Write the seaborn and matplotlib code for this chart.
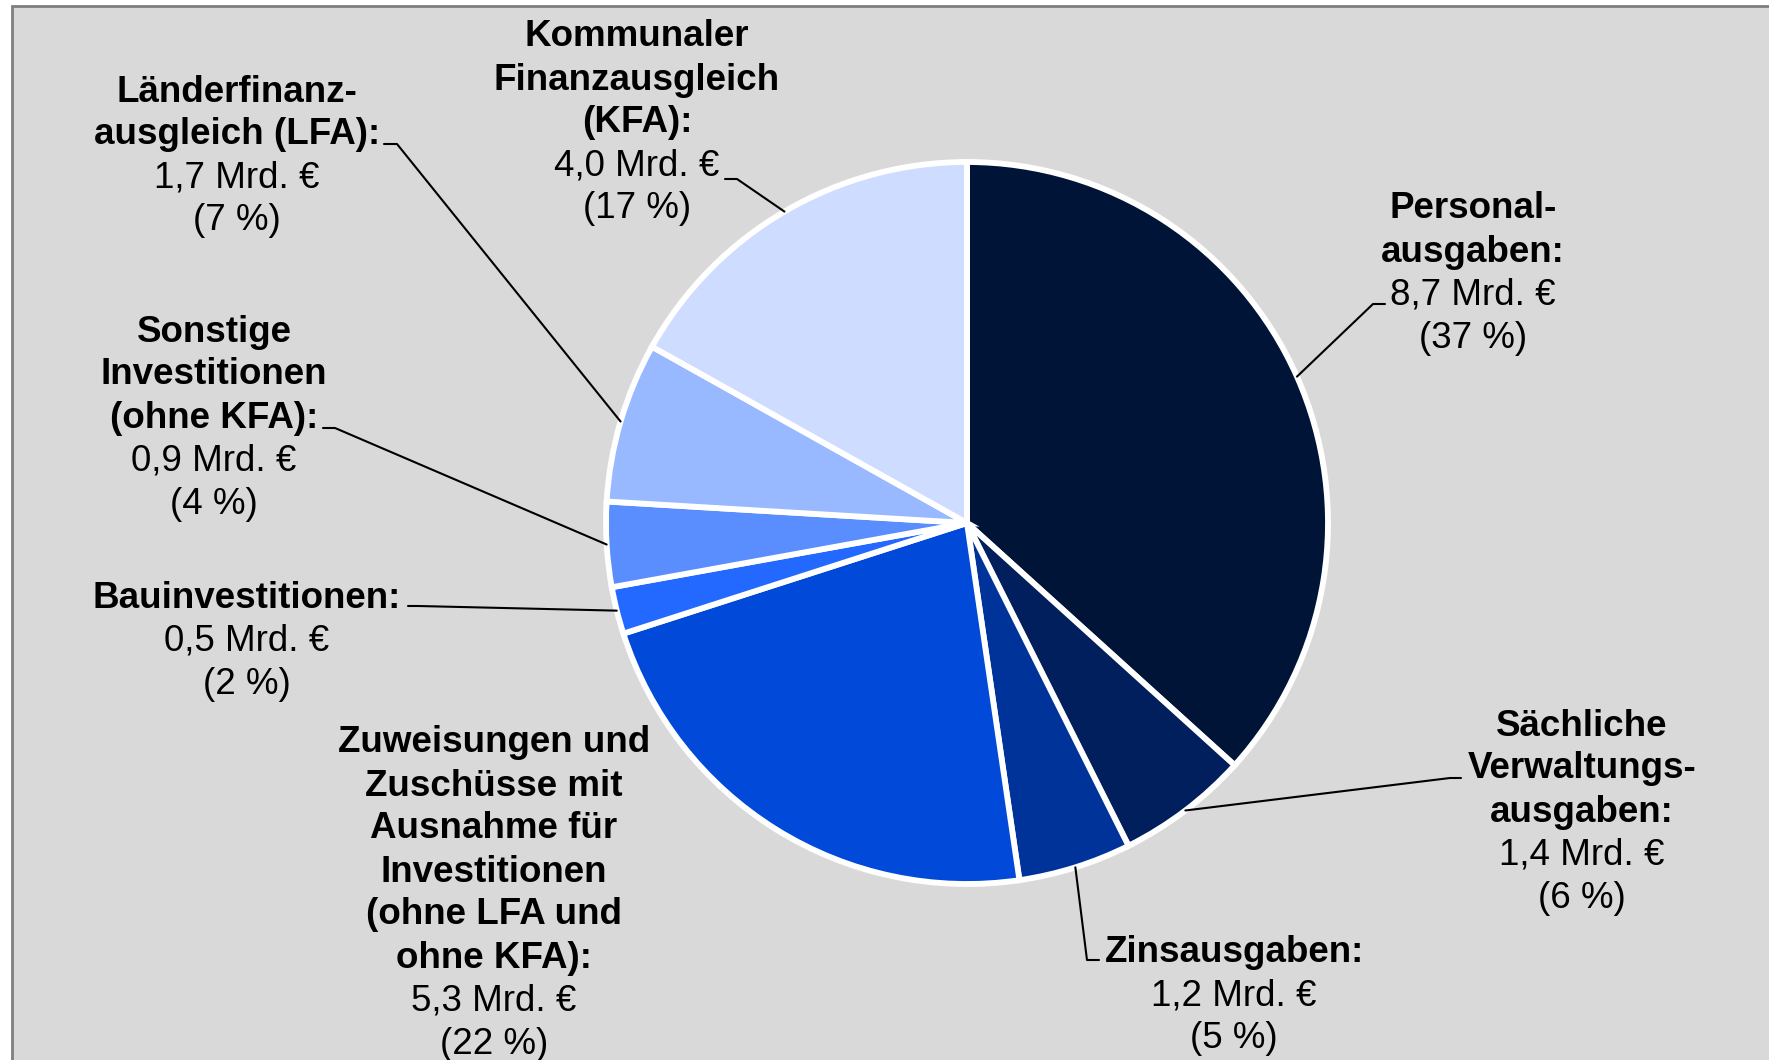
import numpy as np
import matplotlib
matplotlib.use("Agg")
import matplotlib.pyplot as plt
import seaborn as sns
from matplotlib.patches import Rectangle

sns.set_style("white")
plt.rcParams["font.family"] = ["Liberation Sans", "DejaVu Sans"]

# ------------------------------------------------------
# DATA
# ------------------------------------------------------
categories = [
    "Personal-\nausgaben:",
    "Sächliche\nVerwaltungs-\nausgaben:",
    "Zinsausgaben:",
    "Zuweisungen und\nZuschüsse mit\nAusnahme für\nInvestitionen\n(ohne LFA und\nohne KFA):",
    "Bauinvestitionen:",
    "Sonstige\nInvestitionen\n(ohne KFA):",
    "Länderfinanz-\nausgleich (LFA):",
    "Kommunaler\nFinanzausgleich\n(KFA):",
]
values = [8.7, 1.4, 1.2, 5.3, 0.5, 0.9, 1.7, 4.0]
value_labels = ["8,7", "1,4", "1,2", "5,3", "0,5", "0,9", "1,7", "4,0"]
percents = [37, 6, 5, 22, 2, 4, 7, 17]
colors = ["#001438", "#001f5c", "#003399", "#0049d9",
          "#2369ff", "#5a8eff", "#98b8ff", "#cddcff"]

# ------------------------------------------------------
# LAYOUT (pixel coords, y measured from top)
# ------------------------------------------------------
W, H = 1769, 1060
center = (967, 523)
radius = 361
fs = 26.5
step = 43
text_shift = 3

# x center, y center of first line
label_pos = [
    (1473, 206),
    (1582, 723),
    (1234, 950),
    (494, 740),
    (247, 595),
    (214, 329),
    (237, 89),
    (637, 34),
]
# leader: start point and bend point (None = no leader)
leaders = [
    ((1385, 304), (1373, 304)),
    ((1461, 778), (1450, 778)),
    ((1099, 960), (1087, 960)),
    None,
    ((408, 606), (418, 606)),
    ((323, 428), (335, 428)),
    ((384, 144), (397, 144)),
    ((725, 179), (737, 179)),
]

fig = plt.figure(figsize=(W / 100, H / 100), dpi=100)
fig.patch.set_facecolor("white")
ax = fig.add_axes([0, 0, 1, 1])

ax.add_patch(Rectangle((12, -50), W + 50, H - 6 + 50, facecolor="#d9d9d9",
                       edgecolor="#7f7f7f", linewidth=2, zorder=0))

cx, cy = center[0], H - center[1]
wedges, _ = ax.pie(values, colors=colors, startangle=90, counterclock=False,
                   center=(cx, cy), radius=radius, frame=True,
                   wedgeprops=dict(edgecolor="white", linewidth=4.2))
ax.set_xlim(0, W)
ax.set_ylim(0, H)
ax.set_aspect("equal")
ax.axis("off")

for i, w in enumerate(wedges):
    header = categories[i].split("\n")
    lines = [(t, "bold") for t in header]
    lines += [(f"{value_labels[i]} Mrd. €", "normal"), (f"({percents[i]} %)", "normal")]
    lx, ly = label_pos[i]
    for k, (t, wt) in enumerate(lines):
        ax.text(lx, H - (ly + text_shift + k * step), t, ha="center", va="center",
                fontsize=fs, fontweight=wt, color="black", zorder=5)

    if leaders[i] is not None:
        theta = np.deg2rad((w.theta1 + w.theta2) / 2)
        px = cx + radius * np.cos(theta)
        py = cy + radius * np.sin(theta)
        (sx, sy), (bx, by) = leaders[i]
        ax.plot([sx, bx, px], [H - sy, H - by, py], color="black",
                linewidth=1.5, zorder=4)

fig.savefig("out.png", dpi=100, facecolor="white")
